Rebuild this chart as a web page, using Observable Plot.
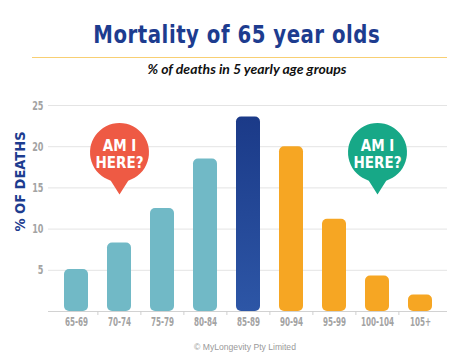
<!DOCTYPE html>
<html><head><meta charset="utf-8">
<script src="https://cdn.jsdelivr.net/npm/d3@7"></script>
<script src="https://cdn.jsdelivr.net/npm/@observablehq/plot@0.6"></script>
<style>
body{margin:0;background:#fff;width:474px;height:364px;overflow:hidden;position:relative;font-family:"Liberation Sans",Arial,sans-serif}
#title{position:absolute;left:0;width:474px;top:19px;text-align:center;line-height:30px;white-space:nowrap}
#title span{display:inline-block;font-family:"DejaVu Sans Condensed","DejaVu Sans",sans-serif;font-stretch:condensed;font-weight:bold;font-size:25.5px;color:#1d3c8f;transform:scaleX(0.86);transform-origin:50% 50%;letter-spacing:0.6px}
#rule{position:absolute;left:32px;width:415px;top:57px;height:1px;background:#f8cf73}
#subtitle{position:absolute;left:10px;width:474px;top:60px;text-align:center;font-family:Lato,sans-serif;font-style:italic;font-weight:bold;font-size:14px;color:#111;white-space:nowrap}
#chart{position:absolute;left:0;top:95px}
#caption{position:absolute;left:8px;width:474px;top:342px;text-align:center;font-size:8.6px;color:#9a9a9a}
</style></head>
<body>
<div id="title"><span>Mortality of 65 year olds</span></div>
<div id="rule"></div>
<div id="subtitle">% of deaths in 5 yearly age groups</div>
<div id="chart"></div>
<div id="caption">© MyLongevity Pty Limited</div>
<script>
const ages = ["65-69","70-74","75-79","80-84","85-89","90-94","95-99","100-104","105+"];
const deathPct = [5.1, 8.3, 12.5, 18.5, 23.6, 20.0, 11.2, 4.3, 2.0];
const ageGroup = ["before","before","before","before","peak","after","after","after","after"];
const yTicks = [5, 10, 15, 20, 25];
const balloonAges = ["70-74", "100-104"];
const balloonPct = [14.2, 14.2];
const balloonGroup = ["early", "late"];
const balloonText = ["AM I\nHERE?", "AM I\nHERE?"];
const yAxisTitle = "% OF DEATHS";

const bars = ages.map((a, i) => ({age: a, pct: deathPct[i], group: ageGroup[i]}));
const balloons = balloonAges.map((a, i) => ({age: a, pct: balloonPct[i], group: balloonGroup[i], text: balloonText[i]}));

const W = 474, H = 240, mL = 48, mR = 27, mT = 10, mB = 24;
const pIn = 0.45, pOut = 0.34;
const step = (W - mL - mR) / (ages.length - pIn + 2 * pOut);

const condensed = "'DejaVu Sans Condensed','DejaVu Sans',sans-serif";

const balloonSymbol = {
  draw(ctx) {
    const r = 29.5, cy = -42, a = 0.3;
    ctx.moveTo(0, 0);
    ctx.arc(0, cy, r, Math.PI / 2 + a, Math.PI / 2 - a + 2 * Math.PI);
    ctx.closePath();
  }
};

const chart = Plot.plot({
  width: W, height: H,
  marginLeft: mL, marginRight: mR, marginTop: mT, marginBottom: mB,
  style: {fontFamily: condensed, background: "white", fontStretch: "condensed"},
  x: {domain: ages, paddingInner: pIn, paddingOuter: pOut, align: 0.5, label: null},
  y: {domain: [0, 25], label: null},
  color: {domain: ["before", "peak", "after", "early", "late"],
          range: ["#71b9c6", "url(#peakGrad)", "#f6a623", "#ee5a44", "#17a887"]},
  marks: [
    Plot.ruleY(yTicks, {stroke: "#e4e4e4", strokeWidth: 1}),
    Plot.axisY({ticks: yTicks, tickSize: 0, tickPadding: 5, label: null, fontSize: 12.5, fontWeight: "bold", color: "#a3a3a3"}),
    Plot.ruleY([0], {stroke: "#d2d2d2", strokeWidth: 1.2}),
    Plot.axisX({ticks: ages.slice(1), tickSize: 4, text: null, dx: -step / 2, label: null, color: "#cfcfcf"}),
    Plot.axisX({tickSize: 0, tickPadding: 6, label: null, fontSize: 11.5, fontWeight: "bold", color: "#a3a3a3"}),
    Plot.barY(bars, {x: "age", y: "pct", fill: "group", rx: 5}),
    Plot.dot(balloons, {x: "age", y: "pct", fill: "group", symbol: balloonSymbol, r: 30, stroke: null}),
    Plot.text(balloons, {x: "age", y: "pct", text: "text", dy: -40.5, fill: "white", fontSize: 15, fontWeight: "bold", lineHeight: 1.12, ariaLabel: "balloon-text"}),
    Plot.text([yAxisTitle], {frameAnchor: "left", textAnchor: "middle", rotate: -90, dx: -28, dy: -27, fill: "#1d3c8f", fontSize: 14.5, fontWeight: "bold", text: d => d, ariaLabel: "y-title"})
  ]
});
chart.insertAdjacentHTML("afterbegin",
  '<defs><linearGradient id="peakGrad" x1="0" y1="0" x2="0" y2="1"><stop offset="0" stop-color="#1b3a88"/><stop offset="1" stop-color="#2d56a6"/></linearGradient></defs>');
function squeeze(sel, s) {
  chart.querySelectorAll(sel).forEach(t => {
    t.setAttribute("transform", (t.getAttribute("transform") || "") + ` scale(${s},1)`);
  });
}
squeeze('g[aria-label="x-axis tick label"] text', 0.7);
squeeze('g[aria-label="y-axis tick label"] text', 0.72);
squeeze('g[aria-label="balloon-text"] text', 0.76);
squeeze('g[aria-label="y-title"] text', 0.7);
document.getElementById("chart").appendChild(chart);
</script>
</body></html>
